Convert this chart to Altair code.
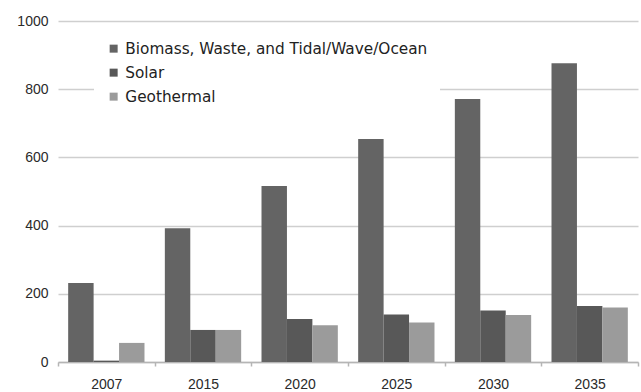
import altair as alt
import pandas as pd

years = ["2007", "2015", "2020", "2025", "2030", "2035"]
series = ["Biomass, Waste, and Tidal/Wave/Ocean", "Solar", "Geothermal"]
biomass = [232, 392, 516, 654, 771, 876]
solar = [4, 94, 126, 139, 151, 164]
geothermal = [56, 94, 108, 116, 138, 160]
colors = ["#646464", "#585858", "#9b9b9b"]

rows = []
for name, vals in zip(series, [biomass, solar, geothermal]):
    for y, v in zip(years, vals):
        rows.append({"year": y, "series": name, "value": v})
df = pd.DataFrame(rows)

FONT = "Liberation Sans"

base = alt.Chart(df)

bars = base.mark_bar().encode(
    x=alt.X("year:N", sort=years, title=None,
            scale=alt.Scale(paddingInner=0, paddingOuter=0),
            axis=alt.Axis(labelAngle=0, labelFont=FONT, labelFontSize=14,
                          labelColor="#2a2a2a", labelPadding=11,
                          domainColor="#b5b5b5", domainWidth=1.5,
                          tickColor="#b5b5b5", tickSize=4, tickWidth=1.5,
                          tickBand="extent", grid=False)),
    xOffset=alt.XOffset("series:N", sort=series,
                        scale=alt.Scale(paddingInner=0, paddingOuter=0.4)),
    y=alt.Y("value:Q", title=None,
            scale=alt.Scale(domain=[0, 1000]),
            axis=alt.Axis(values=[0, 200, 400, 600, 800, 1000], format="d",
                          labelFont=FONT, labelFontSize=14, labelColor="#2a2a2a",
                          labelPadding=10, ticks=False, domain=False,
                          gridColor="#cfcfcf", gridWidth=1.5)),
    color=alt.Color("series:N", sort=series, title=None,
                    scale=alt.Scale(domain=series, range=colors),
                    legend=alt.Legend(orient="none", legendX=36, legendY=8,
                                      fillColor="white", padding=12,
                                      symbolType="square", symbolSize=64,
                                      symbolStrokeWidth=0, labelLimit=0,
                                      labelFont="DejaVu Sans", labelFontSize=15.3,
                                      labelColor="#222222", rowPadding=8,
                                      labelOffset=4)),
)

chart = bars.properties(
    width=580, height=341,
    background="white",
    autosize=alt.AutoSizeParams(type="none"),
    padding={"left": 58, "top": 21, "right": 3, "bottom": 30},
).configure_view(stroke=None)

chart.save("out.html", embed_options={"renderer": "svg", "actions": False})
